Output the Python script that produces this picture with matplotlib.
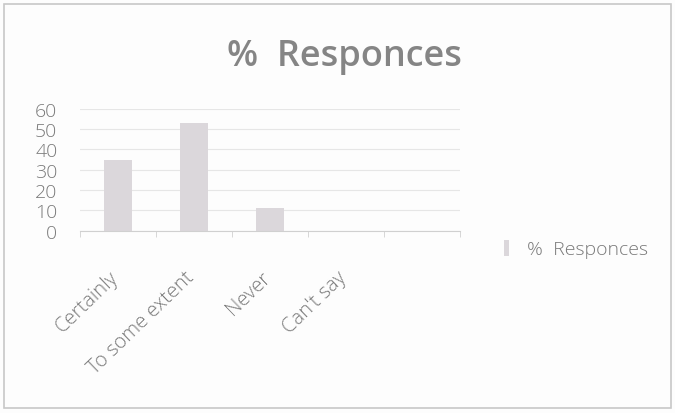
import matplotlib
matplotlib.use("Agg")
import matplotlib.pyplot as plt
from matplotlib.patches import Rectangle
from matplotlib.transforms import ScaledTranslation

# ── data ────────────────────────────────────────────────────────────────────
categories = ["Certainly", "To some extent", "Never", "Can't say", ""]
responses  = [35, 53, 11, 0, 0]
y_ticks    = [0, 10, 20, 30, 40, 50, 60]
series     = "%  Responces"

TEXT = "#7a7a7a"
BAR  = "#dbd7db"
GRID = "#e6e6e6"

plt.rcParams["font.family"] = ["Open Sans", "DejaVu Sans"]

fig = plt.figure(figsize=(6.75, 4.14), dpi=100)
fig.patch.set_facecolor("#fdfdfd")
# faint outer chart border, as in the scan
fig.add_artist(Rectangle((0.006, 0.012), 0.988, 0.975, transform=fig.transFigure,
                         fill=False, edgecolor="#c8c8c8", linewidth=1.2))

ax = fig.add_axes([0.118, 0.44, 0.563, 0.295])
ax.set_facecolor("none")

x = list(range(len(categories)))
ax.bar(x, responses, width=0.37, color=BAR, label=series, zorder=2)

ax.set_xlim(-0.5, len(categories) - 0.5)
ax.set_ylim(0, 60)
ax.set_yticks(y_ticks)
ax.set_yticklabels([str(v) for v in y_ticks], fontsize=14, color=TEXT,
                   fontweight="light")
ax.grid(axis="y", color=GRID, linewidth=0.8, zorder=0)

ax.set_xticks(x)
ax.set_xticklabels(categories, rotation=44, ha="right", va="top",
                   rotation_mode="anchor", fontsize=14.5, color=TEXT,
                   fontweight="light")
ax.tick_params(axis="x", length=0, pad=26)
ax.tick_params(axis="y", length=0, pad=16)
# nudge the rotated labels left so their ends sit under the slot centres
shift = ScaledTranslation(-0.09, 0, fig.dpi_scale_trans)
for lab in ax.get_xticklabels():
    lab.set_transform(lab.get_transform() + shift)
# slot separators on the category axis
ax.set_xticks([i - 0.5 for i in range(len(categories) + 1)], minor=True)
ax.tick_params(axis="x", which="minor", length=4, color="#d0d0d0")

for side in ["top", "right", "left"]:
    ax.spines[side].set_visible(False)
ax.spines["bottom"].set_color("#d0d0d0")

fig.text(0.51, 0.84, series, ha="center", va="baseline", fontsize=26,
         color="#858585", fontweight="semibold")

fig.legend(loc="center left", bbox_to_anchor=(0.72, 0.396), frameon=False,
           labelcolor=TEXT, handlelength=0.3, handleheight=0.9,
           handletextpad=0.9, prop={"weight": "light", "size": 14})

plt.savefig("out.png", dpi=100, facecolor=fig.get_facecolor())
plt.close(fig)
